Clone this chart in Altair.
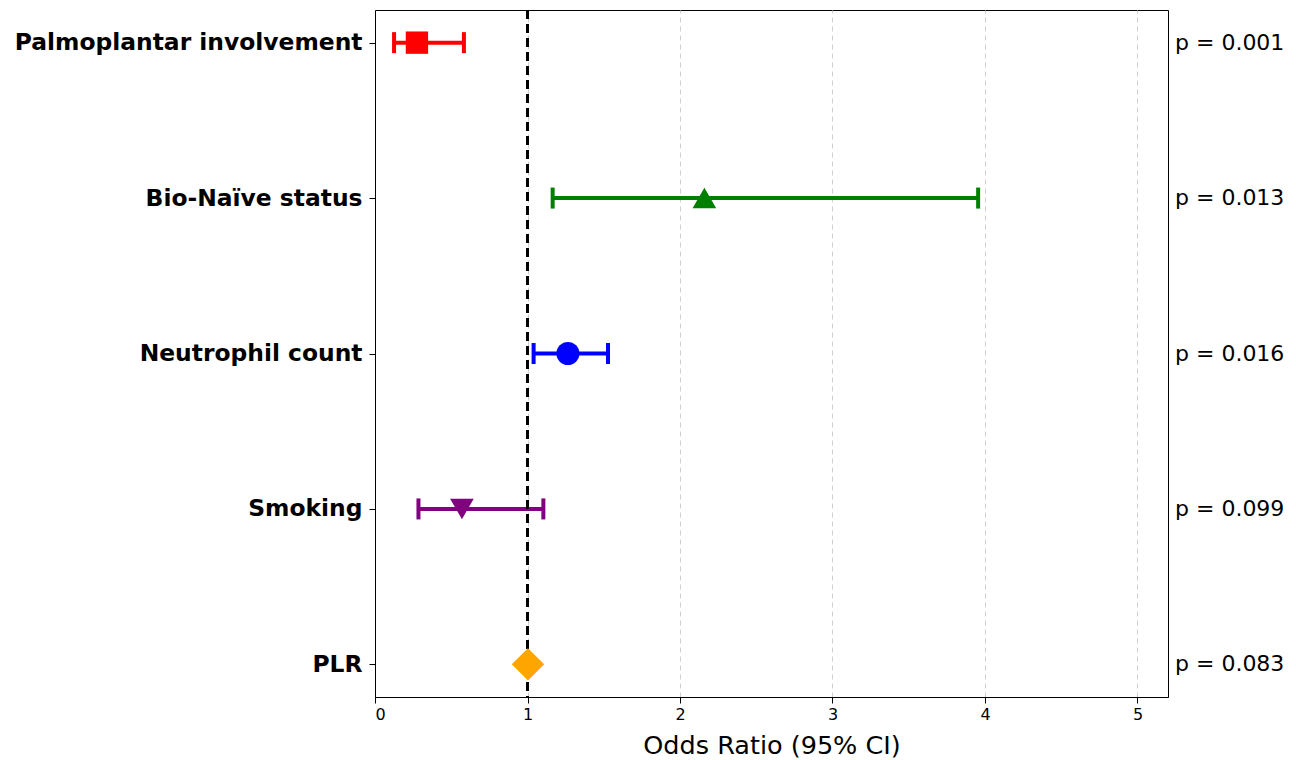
import altair as alt
import pandas as pd

categories = ["Palmoplantar involvement", "Bio-Naïve status", "Neutrophil count", "Smoking", "PLR"]
odds_ratio = [0.275, 2.16, 1.265, 0.57, 1.003]
ci_low = [0.125, 1.165, 1.04, 0.285, 0.998]
ci_high = [0.583, 3.955, 1.528, 1.104, 1.008]
p_labels = ["p = 0.001", "p = 0.013", "p = 0.016", "p = 0.099", "p = 0.083"]
colors = ["#ff0000", "#008000", "#0000ff", "#800080", "#ffa500"]
shapes = ["square", "triangle-up", "circle", "triangle-down", "diamond"]
marker_sizes = [500, 560, 530, 560, 1050]
ref_value = [1]
x_ticks = [0, 1, 2, 3, 4, 5]

df = pd.DataFrame({
    "cat": categories,
    "or": odds_ratio,
    "lo": ci_low,
    "hi": ci_high,
    "p": p_labels,
    "color": colors,
    "shape": shapes,
    "msize": marker_sizes,
})
ref_df = pd.DataFrame({"ref": ref_value})

W, H = 793, 687

yenc = alt.Y("cat:N", sort=categories,
             scale=alt.Scale(type="point", padding=0.21, domain=categories),
             axis=alt.Axis(title=None, labelFont="DejaVu Sans", labelFontSize=23.4,
                           labelFontWeight="bold", labelColor="black", labelLimit=0,
                           tickSize=6, tickColor="black", tickWidth=1,
                           labelPadding=7, domain=False, grid=False))

xscale = alt.Scale(domain=[0, 5.2], nice=False, zero=False)
xaxis = alt.Axis(title="Odds Ratio (95% CI)", values=x_ticks, format="d",
                 labelFont="DejaVu Sans", labelFontSize=16, labelColor="black",
                 titleFont="DejaVu Sans", titleFontSize=25.5, titleFontWeight="normal",
                 titleColor="black", titlePadding=11,
                 tickSize=6, tickColor="black", tickWidth=1, labelPadding=3,
                 domain=True, domainColor="black", domainWidth=1,
                 grid=True, gridDash=[5, 4], gridColor="#cfcfcf", gridWidth=1,
                 gridOpacity={"condition": {"test": "datum.value === 0", "value": 0}, "value": 1})

base = alt.Chart(df)

bars = base.mark_rule(strokeWidth=4, opacity=1).encode(
    x=alt.X("lo:Q", scale=xscale, axis=xaxis),
    x2="hi:Q",
    y=yenc,
    color=alt.Color("color:N", scale=None),
)

caps_lo = base.mark_tick(size=21, thickness=4, opacity=1).encode(
    x=alt.X("lo:Q", scale=xscale),
    y=alt.Y("cat:N", sort=categories),
    color=alt.Color("color:N", scale=None),
)
caps_hi = base.mark_tick(size=21, thickness=4, opacity=1).encode(
    x=alt.X("hi:Q", scale=xscale),
    y=alt.Y("cat:N", sort=categories),
    color=alt.Color("color:N", scale=None),
)

refline = alt.Chart(ref_df).mark_rule(color="black", strokeWidth=3, strokeDash=[9, 5]).encode(
    x=alt.X("ref:Q", scale=xscale)
)

points = base.mark_point(filled=True, opacity=1).encode(
    x=alt.X("or:Q", scale=xscale),
    y=alt.Y("cat:N", sort=categories),
    color=alt.Color("color:N", scale=None),
    shape=alt.Shape("shape:N", scale=None),
    size=alt.Size("msize:Q", scale=None),
)

ptext = base.mark_text(align="left", baseline="middle", font="DejaVu Sans",
                       fontSize=22, color="black").encode(
    x=alt.value(W + 7),
    y=alt.Y("cat:N", sort=categories),
    text="p:N",
)

chart = alt.layer(bars, caps_lo, caps_hi, refline, points, ptext).properties(
    width=W, height=H,
    autosize=alt.AutoSizeParams(type="none"),
    padding={"left": 367, "top": 2, "right": 120, "bottom": 62},
    background="white",
).configure_view(stroke="black", strokeWidth=1)

chart.save("out.html", embed_options={"renderer": "svg", "actions": False})
